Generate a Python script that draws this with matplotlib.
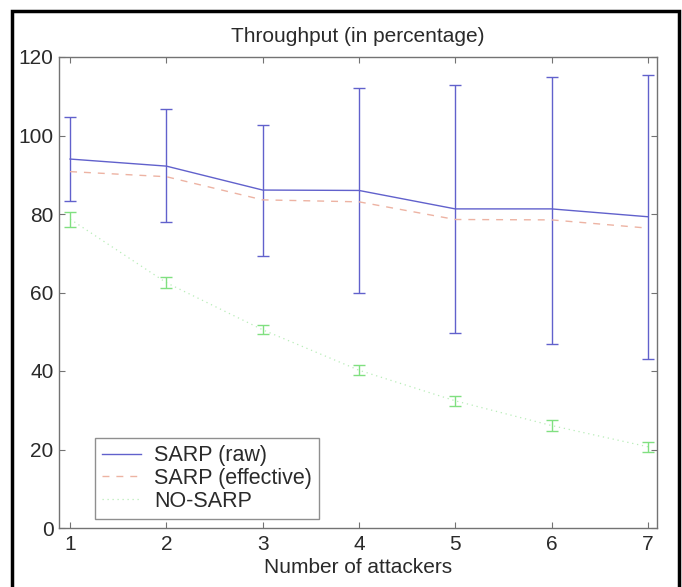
import matplotlib
matplotlib.use("Agg")
import matplotlib.pyplot as plt
from matplotlib.patches import Rectangle
from matplotlib.lines import Line2D

attackers = [1, 2, 3, 4, 5, 6, 7]
sarp_raw = [94.0, 92.2, 86.1, 86.0, 81.3, 81.3, 79.3]
sarp_raw_upper = [104.8, 106.8, 102.8, 112.0, 112.9, 114.8, 115.4]
sarp_raw_lower = [83.3, 77.9, 69.2, 59.8, 49.8, 47.0, 43.0]
sarp_eff = [90.8, 89.5, 83.6, 83.1, 78.6, 78.5, 76.4]
nosarp = [78.7, 62.5, 50.5, 40.2, 32.4, 26.1, 20.7]
nosarp_err = [1.9, 1.4, 1.2, 1.3, 1.2, 1.3, 1.3]
yticks = [0, 20, 40, 60, 80, 100, 120]
labels = ['SARP (raw)', 'SARP (effective)', 'NO-SARP']

blue = (0.38, 0.38, 0.80)
salmon = (0.93, 0.70, 0.64)
green = (0.50, 0.88, 0.50)
green_line = (0.72, 0.93, 0.72)
axgray = (0.45, 0.45, 0.45)
txt = '#2a2a2a'
fs = 15

plt.rcParams['font.family'] = ['Liberation Sans', 'DejaVu Sans']
fig = plt.figure(figsize=(6.82, 5.87), dpi=100)
ax = fig.add_axes([59 / 682, 1 - 528 / 587, 598 / 682, 471 / 587])

yerr_raw = [[c - l for c, l in zip(sarp_raw, sarp_raw_lower)],
            [u - c for c, u in zip(sarp_raw, sarp_raw_upper)]]
ax.errorbar(attackers, sarp_raw, yerr=yerr_raw, color=blue, lw=1.0,
            elinewidth=1.0, capsize=4, capthick=1.0)
ax.plot(attackers, sarp_eff, color=salmon, lw=1.0, ls=(0, (5, 5)))
ax.plot(attackers, nosarp, color=green_line, lw=0.9, ls=(0, (1, 3)))
ax.errorbar(attackers, nosarp, yerr=nosarp_err, color=green, lw=0, ls='none',
            elinewidth=1.0, capsize=4, capthick=1.0)

ax.set_xlim(0.885, 7.095)
ax.set_ylim(0, 120)
ax.set_xticks(attackers)
ax.set_yticks(yticks)
ax.tick_params(direction='in', top=True, right=True, length=4, color=axgray,
               labelsize=fs, labelcolor=txt)
ax.tick_params(axis='y', pad=4)
ax.tick_params(axis='x', pad=5)
for s in ax.spines.values():
    s.set_color(axgray)
    s.set_linewidth(1.0)

ax.set_title('Throughput (in percentage)', fontsize=fs, color=txt, pad=11)
ax.set_xlabel('Number of attackers', fontsize=fs, color=txt, labelpad=3)

handles = [Line2D([], [], color=blue, lw=1.0),
           Line2D([], [], color=salmon, lw=1.0, ls=(0, (5, 5))),
           Line2D([], [], color=green_line, lw=0.9, ls=(0, (1, 3)))]
leg = ax.legend(handles, labels, loc='lower left', bbox_to_anchor=(0.06, 0.019),
                borderaxespad=0, fontsize=15.5, frameon=True, fancybox=False,
                edgecolor=axgray, handlelength=1.8, borderpad=0.35,
                labelspacing=0.08, handletextpad=0.6)
leg.get_frame().set_linewidth(1.0)
for t in leg.get_texts():
    t.set_color(txt)

fig.patches.append(Rectangle((11.5 / 682, -10 / 587), (678.5 - 11.5) / 682, (576.5 + 10) / 587,
                             transform=fig.transFigure, fill=False,
                             edgecolor='black', lw=2.5, clip_on=False))

fig.savefig('out.png', dpi=100)
